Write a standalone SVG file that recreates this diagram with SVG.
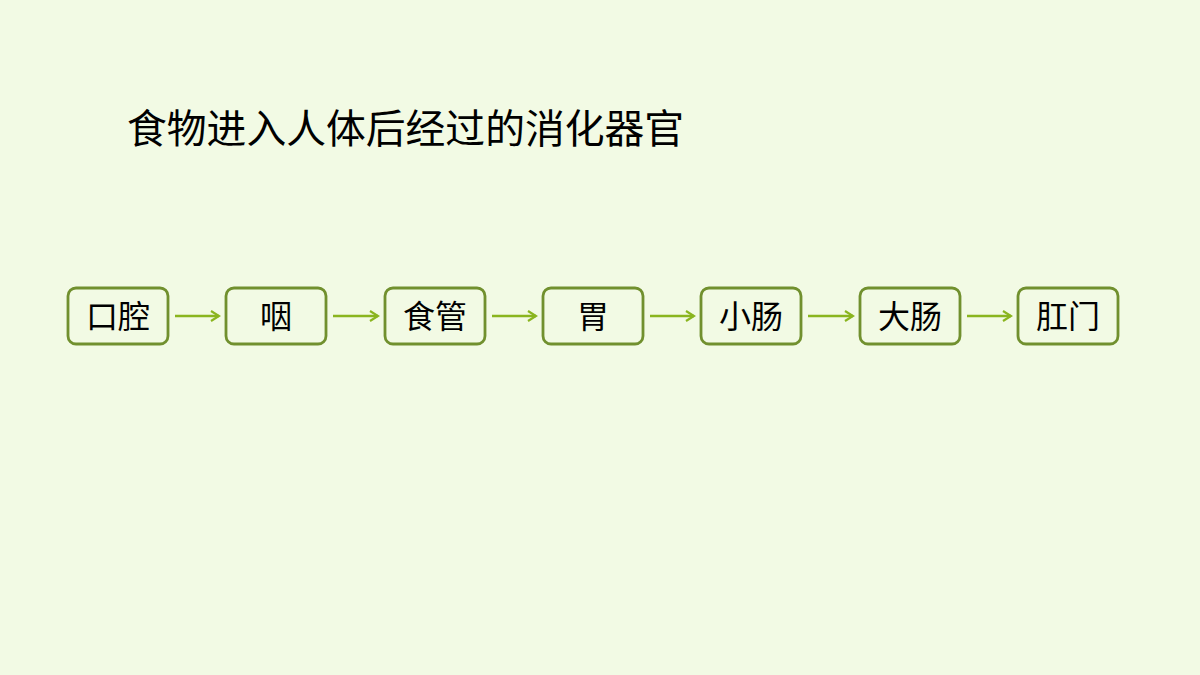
<svg xmlns="http://www.w3.org/2000/svg" width="1200" height="675" viewBox="0 0 1200 675">
<defs>
<marker id="ah" markerWidth="12" markerHeight="12" refX="10" refY="6" orient="auto" markerUnits="userSpaceOnUse">
<path d="M2,1 L10,6 L2,11" fill="none" stroke="#8ab51f" stroke-width="2.2"/>
</marker>
<style>
.box{fill:#f2fae4;stroke:#71902e;stroke-width:2.8}
.lbl{font-family:"Liberation Serif","Noto Sans CJK SC",serif;font-size:32px;fill:#000;text-anchor:middle}
.title{font-family:"Noto Sans CJK SC",sans-serif;font-size:39.8px;fill:#000}
.conn{stroke:#8ab51f;stroke-width:2.5;fill:none;marker-end:url(#ah)}
</style>
</defs>
<rect width="1200" height="675" fill="#f2fae4"/>
<text class="title" x="127" y="143">食物进入人体后经过的消化器官</text>
<g id="n1"><rect class="box" x="68" y="288" width="100" height="56" rx="8"/><text class="lbl" x="118" y="328">口腔</text></g>
<g id="n2"><rect class="box" x="226" y="288" width="100" height="56" rx="8"/><text class="lbl" x="276" y="328">咽</text></g>
<g id="n3"><rect class="box" x="385" y="288" width="100" height="56" rx="8"/><text class="lbl" x="435" y="328">食管</text></g>
<g id="n4"><rect class="box" x="543" y="288" width="100" height="56" rx="8"/><text class="lbl" x="593" y="328">胃</text></g>
<g id="n5"><rect class="box" x="701" y="288" width="100" height="56" rx="8"/><text class="lbl" x="751" y="328">小肠</text></g>
<g id="n6"><rect class="box" x="860" y="288" width="100" height="56" rx="8"/><text class="lbl" x="910" y="328">大肠</text></g>
<g id="n7"><rect class="box" x="1018" y="288" width="100" height="56" rx="8"/><text class="lbl" x="1068" y="328">肛门</text></g>
<g id="connectors">
<line class="conn" x1="175" y1="316" x2="219" y2="316"/>
<line class="conn" x1="333" y1="316" x2="378" y2="316"/>
<line class="conn" x1="492" y1="316" x2="536" y2="316"/>
<line class="conn" x1="650" y1="316" x2="694" y2="316"/>
<line class="conn" x1="808" y1="316" x2="853" y2="316"/>
<line class="conn" x1="967" y1="316" x2="1011" y2="316"/>
</g>
</svg>
